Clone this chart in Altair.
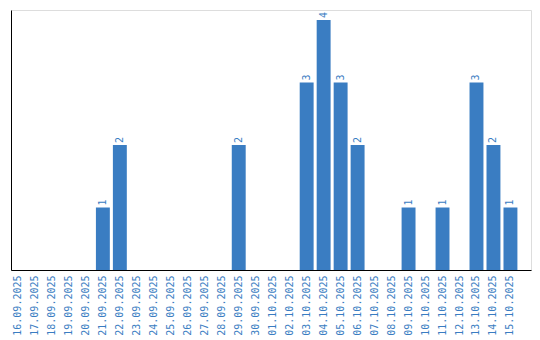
import altair as alt
import pandas as pd

dates = ["16.09.2025", "17.09.2025", "18.09.2025", "19.09.2025", "20.09.2025",
         "21.09.2025", "22.09.2025", "23.09.2025", "24.09.2025", "25.09.2025",
         "26.09.2025", "27.09.2025", "28.09.2025", "29.09.2025", "30.09.2025",
         "01.10.2025", "02.10.2025", "03.10.2025", "04.10.2025", "05.10.2025",
         "06.10.2025", "07.10.2025", "08.10.2025", "09.10.2025", "10.10.2025",
         "11.10.2025", "12.10.2025", "13.10.2025", "14.10.2025", "15.10.2025"]
counts = [0, 0, 0, 0, 0,
          1, 2, 0, 0, 0,
          0, 0, 0, 2, 0,
          0, 0, 3, 4, 3,
          2, 0, 0, 1, 0,
          1, 0, 3, 2, 1]

df = pd.DataFrame({"date": dates, "count": counts})
df["label"] = df["count"].apply(lambda v: str(v) if v > 0 else "")

BLUE = "#3a7dc2"
FONT = "DejaVu Sans Mono"

x = alt.X("date:N", sort=dates,
          scale=alt.Scale(paddingInner=0.18, paddingOuter=0.4, align=0),
          axis=alt.Axis(title=None, labelAngle=-90, labelColor=BLUE,
                        labelFont=FONT, labelFontSize=10,
                        labelPadding=5, ticks=False, grid=False,
                        domainColor="black", labelBaseline="middle",
                        labelAlign="right"))
y = alt.Y("count:Q", scale=alt.Scale(domain=[0, 4.16], nice=False),
          axis=alt.Axis(title=None, labels=False, ticks=False, grid=False,
                        domainColor="black"))

base = alt.Chart(df)
bars = base.mark_bar(color=BLUE).encode(x=x, y=y)
text = base.mark_text(angle=270, align="left", baseline="middle",
                      color=BLUE, font=FONT, fontSize=10, dx=2).encode(
    x=alt.X("date:N", sort=dates), y="count:Q", text="label:N")

chart = (bars + text).properties(
    width=520, height=260,
    autosize=alt.AutoSizeParams(type="none"),
    padding={"left": 11, "top": 10, "right": 9, "bottom": 70},
).configure_view(stroke=None).configure(background="white")

chart.save("out.html", embed_options={"renderer": "svg", "actions": False})
